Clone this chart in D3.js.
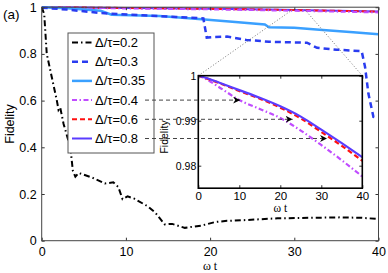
<!DOCTYPE html>
<html>
<head>
<meta charset="utf-8">
<script src="https://cdn.jsdelivr.net/npm/d3@7"></script>
<style>
  body { margin: 0; background: #fff; }
  text { font-family: "Liberation Sans", Arial, sans-serif; }
</style>
</head>
<body>
<svg id="chart" width="388" height="273"></svg>
<script>
// ---- data ----
const ratios = ['0.2', '0.3', '0.35', '0.4', '0.6', '0.8'];

const t02 = [0, 0.3, 0.6, 1.2, 1.8, 2, 2.2, 2.6, 3.4, 3.7, 4, 4.4, 6, 7.5, 8.5, 9.1, 9.6, 10.2, 11, 12.6, 13.5, 14.6, 15.5, 17, 19, 20.6, 22, 24, 28, 32, 35.4, 38, 40];
const f02 = [1, 0.97, 0.8, 0.7, 0.6, 0.56, 0.57, 0.5, 0.4, 0.3, 0.274, 0.29, 0.27, 0.245, 0.25, 0.23, 0.178, 0.19, 0.18, 0.147, 0.12, 0.07, 0.072, 0.055, 0.065, 0.08, 0.085, 0.088, 0.096, 0.098, 0.1, 0.098, 0.093];

const t03 = [0, 3, 7, 12, 16, 19.2, 19.6, 20.4, 22, 24.3, 27, 31.5, 32.7, 35, 38, 38.4, 38.8, 39.4, 40];
const f03 = [0.998, 0.99, 0.975, 0.965, 0.958, 0.952, 0.87, 0.872, 0.874, 0.86, 0.852, 0.848, 0.826, 0.818, 0.812, 0.745, 0.63, 0.53, 0.525];

const t035 = [0, 3, 7, 8.3, 14, 19, 23, 26.5, 27, 30, 33, 37, 40];
const f035 = [1, 0.995, 0.985, 0.968, 0.962, 0.948, 0.937, 0.926, 0.914, 0.912, 0.903, 0.893, 0.884];

const tFine = [0, 2, 5, 10, 15, 20, 25, 30, 35, 40];
const f04 = [1, 0.9992, 0.9975, 0.9946, 0.9926, 0.9906, 0.9878, 0.9846, 0.9812, 0.9776];
const f06 = [1, 0.9994, 0.9984, 0.9966, 0.9949, 0.9929, 0.9905, 0.9875, 0.9844, 0.9811];
const f08 = [1, 0.9995, 0.9985, 0.9968, 0.9951, 0.9932, 0.9909, 0.988, 0.985, 0.9819];

const mainTicksX = [0, 10, 20, 30, 40];
const mainTicksY = [0, 0.2, 0.4, 0.6, 0.8, 1];
const insetTicksX = [0, 10, 20, 30, 40];
const insetTicksY = [0.98, 0.99, 1];

// arrows: legend row -> point in the inset (t)
const arrowRows = [3, 4, 5];
const arrowT = [10.2, 23, 31.4];

const zip = (ts, fs) => ts.map((t, i) => [t, fs[i]]);

const series = [
  { pts: zip(t02, f02), color: '#000000', dash: '6,3,1.5,3', w: 2 },
  { pts: zip(t03, f03), color: '#2a3cf0', dash: '6,4', w: 2.5 },
  { pts: zip(t035, f035), color: '#3aa0ff', dash: null, w: 2.5 },
  { pts: zip(tFine, f04), color: '#c04cff', dash: '5,2.5,1.5,2.5', w: 2 },
  { pts: zip(tFine, f06), color: '#ff1010', dash: '5,3', w: 2 },
  { pts: zip(tFine, f08), color: '#5a3cff', dash: null, w: 2 }
];

const svg = d3.select('#chart');

// ---- main axes ----
const x = d3.scaleLinear().domain([0, 40]).range([41.7, 378.5]);
const y = d3.scaleLinear().domain([0, 1]).range([240.7, 7.2]);

svg.append('clipPath').attr('id', 'clipMain')
  .append('rect').attr('x', x(0)).attr('y', y(1) - 3)
  .attr('width', x(40) - x(0)).attr('height', y(0) - y(1) + 3);

const line = d3.line().x(d => x(d[0])).y(d => y(d[1]));

const gMain = svg.append('g').attr('clip-path', 'url(#clipMain)');
// flat ones first, the decaying ones on top
[5, 4, 3, 2, 1, 0].forEach(i => {
  const s = series[i];
  gMain.append('path')
    .attr('d', line(s.pts))
    .attr('fill', 'none')
    .attr('stroke', s.color)
    .attr('stroke-width', s.w)
    .attr('stroke-dasharray', s.dash);
});

function styleAxis(g, fs) {
  g.selectAll('.domain').remove();
  g.selectAll('.tick line').attr('stroke', '#333');
  g.selectAll('text').attr('font-size', fs).attr('fill', '#000')
    .style('font-family', '"Liberation Sans", Arial, sans-serif');
}

svg.append('g').attr('transform', `translate(0,${y(0)})`)
  .call(d3.axisBottom(x).tickValues(mainTicksX).tickSizeInner(-3).tickSizeOuter(0).tickPadding(6))
  .call(g => styleAxis(g, 12.5));
svg.append('g').attr('transform', `translate(0,${y(1)})`)
  .call(d3.axisTop(x).tickValues(mainTicksX).tickSizeInner(-3).tickSizeOuter(0).tickFormat(''))
  .call(g => styleAxis(g, 12.5));
svg.append('g').attr('transform', `translate(${x(0)},0)`)
  .call(d3.axisLeft(y).tickValues(mainTicksY).tickSizeInner(-3).tickSizeOuter(0).tickPadding(5)
    .tickFormat(d => d === 0 || d === 1 ? d : d3.format('.1f')(d)))
  .call(g => styleAxis(g, 12.5));
svg.append('g').attr('transform', `translate(${x(40)},0)`)
  .call(d3.axisRight(y).tickValues(mainTicksY).tickSizeInner(-3).tickSizeOuter(0).tickFormat(''))
  .call(g => styleAxis(g, 12.5));

svg.append('rect')
  .attr('x', x(0)).attr('y', y(1))
  .attr('width', x(40) - x(0)).attr('height', y(0) - y(1))
  .attr('fill', 'none').attr('stroke', '#444').attr('stroke-width', 1);

svg.append('text')
  .attr('transform', `translate(14,${(y(0) + y(1)) / 2}) rotate(-90)`)
  .attr('text-anchor', 'middle')
  .attr('font-size', 12.5)
  .text('Fidelity');

svg.append('text')
  .attr('x', 210).attr('y', 270)
  .attr('text-anchor', 'middle')
  .attr('font-size', 12)
  .style('font-family', '"Liberation Serif", serif')
  .text('ω t');

svg.append('text')
  .attr('x', 3).attr('y', 19)
  .attr('font-size', 13.5)
  .text('(a)');

// ---- inset ----
const xi = d3.scaleLinear().domain([0, 40]).range([198.3, 362.3]);
const yi = d3.scaleLinear().domain([0.975, 1]).range([188.2, 75.7]);
const insetFine = [3, 4, 5];

// dotted zoom lines
const zoomPts = [[xi(0), yi(1), x(30.2), y(1)], [xi(40), yi(1), x(31), y(1)]];
zoomPts.forEach(p => {
  svg.append('line')
    .attr('x1', p[0]).attr('y1', p[1]).attr('x2', p[2]).attr('y2', p[3])
    .attr('stroke', '#777').attr('stroke-width', 1).attr('stroke-dasharray', '1,2');
});

svg.append('rect')
  .attr('x', xi(0)).attr('y', yi(1))
  .attr('width', xi(40) - xi(0)).attr('height', yi(0.975) - yi(1))
  .attr('fill', '#fff');

svg.append('clipPath').attr('id', 'clipInset')
  .append('rect').attr('x', xi(0)).attr('y', yi(1) - 2)
  .attr('width', xi(40) - xi(0) + 1).attr('height', yi(0.975) - yi(1) + 2);

const lineI = d3.line().x(d => xi(d[0])).y(d => yi(d[1])).curve(d3.curveMonotoneX);
const gInset = svg.append('g').attr('clip-path', 'url(#clipInset)');
insetFine.forEach(i => {
  const s = series[i];
  gInset.append('path')
    .attr('d', lineI(s.pts))
    .attr('fill', 'none')
    .attr('stroke', s.color)
    .attr('stroke-width', 2.2)
    .attr('stroke-dasharray', s.dash);
});

svg.append('g').attr('transform', `translate(0,${yi(0.975)})`)
  .call(d3.axisBottom(xi).tickValues(insetTicksX).tickSizeInner(-3).tickSizeOuter(0).tickPadding(4))
  .call(g => styleAxis(g, 11.5));
svg.append('g').attr('transform', `translate(0,${yi(1)})`)
  .call(d3.axisTop(xi).tickValues(insetTicksX).tickSizeInner(-3).tickSizeOuter(0).tickFormat(''))
  .call(g => styleAxis(g, 11));
svg.append('g').attr('transform', `translate(${xi(0)},0)`)
  .call(d3.axisLeft(yi).tickValues(insetTicksY).tickSizeInner(-3).tickSizeOuter(0).tickPadding(2)
    .tickFormat(d => d === 1 ? '1' : d3.format('.2f')(d)))
  .call(g => styleAxis(g, 10.5));
svg.append('g').attr('transform', `translate(${xi(40)},0)`)
  .call(d3.axisRight(yi).tickValues(insetTicksY).tickSizeInner(-3).tickSizeOuter(0).tickFormat(''))
  .call(g => styleAxis(g, 11));

svg.append('rect')
  .attr('x', xi(0)).attr('y', yi(1))
  .attr('width', xi(40) - xi(0)).attr('height', yi(0.975) - yi(1))
  .attr('fill', 'none').attr('stroke', '#000').attr('stroke-width', 1.6);

svg.append('text')
  .attr('transform', `translate(168,${(yi(1) + yi(0.975)) / 2 + 5}) rotate(-90)`)
  .attr('text-anchor', 'middle')
  .attr('font-size', 10.5)
  .text('Fidelity');

svg.append('text')
  .attr('x', (xi(0) + xi(40)) / 2).attr('y', 212)
  .attr('text-anchor', 'middle')
  .attr('font-size', 11.5)
  .style('font-family', '"Liberation Serif", serif')
  .text('ω t');

// ---- legend ----
const leg = { x: 68, y: 33, w: 86, h: 120, row0: 42.5, step: 19.2 };
svg.append('rect')
  .attr('x', leg.x).attr('y', leg.y).attr('width', leg.w).attr('height', leg.h)
  .attr('fill', '#fff').attr('stroke', '#555').attr('stroke-width', 1);

const rows = svg.append('g').selectAll('g').data(series).join('g')
  .attr('transform', (d, i) => `translate(0,${leg.row0 + i * leg.step})`);
rows.append('line')
  .attr('x1', 72).attr('x2', 92).attr('y1', 0).attr('y2', 0)
  .attr('stroke', d => d.color)
  .attr('stroke-width', d => d.w)
  .attr('stroke-dasharray', d => d.dash);
rows.append('text')
  .attr('x', 95).attr('y', 4.5)
  .attr('font-size', 13)
  .text((d, i) => 'Δ/τ=' + ratios[i]);

// ---- dashed arrows from legend rows to the inset curves ----
svg.append('defs').append('marker')
  .attr('id', 'head').attr('viewBox', '0 0 10 10')
  .attr('refX', 10).attr('refY', 5)
  .attr('markerWidth', 7).attr('markerHeight', 7)
  .attr('orient', 'auto')
  .append('path').attr('d', 'M0,0 L10,5 L0,10 L3,5 Z').attr('fill', '#000');

arrowRows.forEach((r, k) => {
  const yy = leg.row0 + r * leg.step;
  svg.append('line')
    .attr('x1', 145).attr('y1', yy)
    .attr('x2', xi(arrowT[k])).attr('y2', yy)
    .attr('stroke', '#444').attr('stroke-width', 1)
    .attr('stroke-dasharray', '4,3')
    .attr('marker-end', 'url(#head)');
});
</script>
</body>
</html>
